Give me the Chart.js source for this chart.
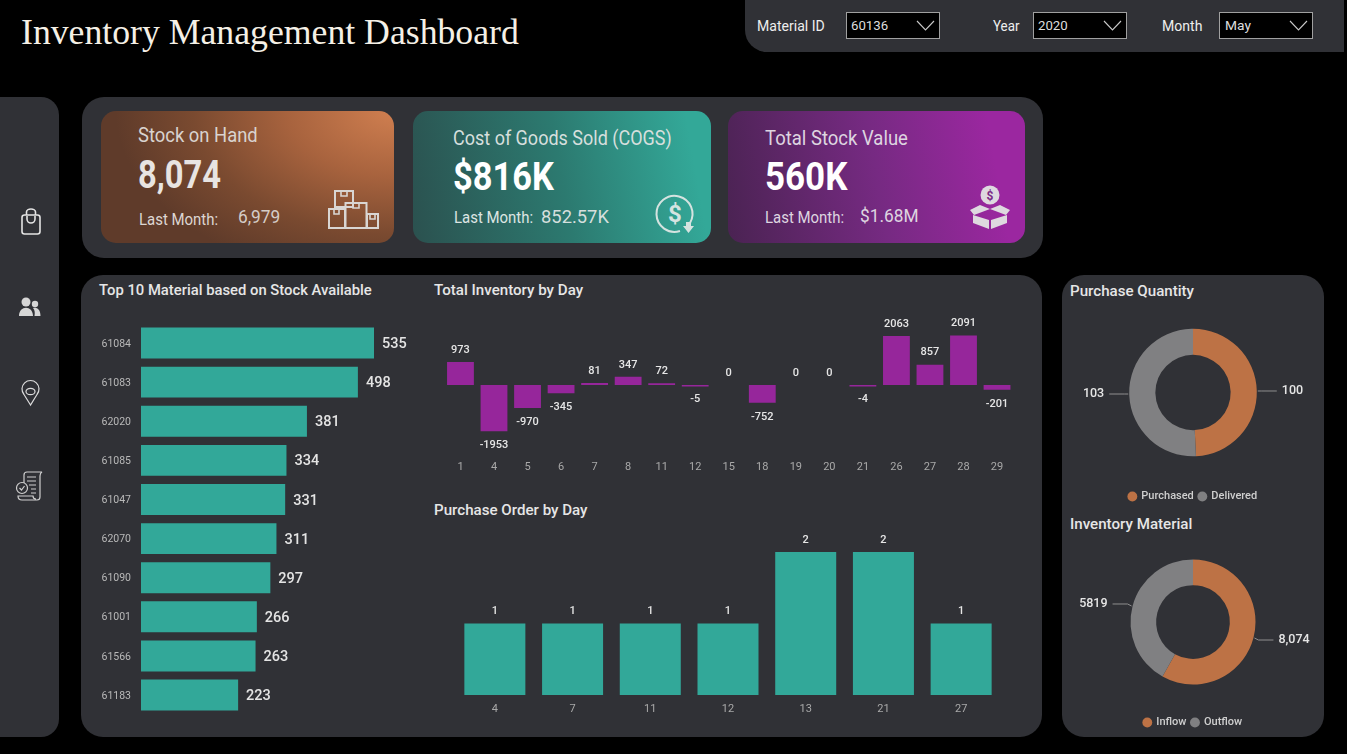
<!DOCTYPE html>
<html><head><meta charset="utf-8">
<script src="https://cdn.jsdelivr.net/npm/chart.js@4"></script>
<style>
html,body{margin:0;padding:0;background:#000;width:1347px;height:754px;overflow:hidden;font-family:Roboto,sans-serif}
.p{position:absolute;background:#303136}
.c{position:absolute;border-radius:15px}
.t{position:absolute;white-space:nowrap;transform-origin:0 50%;line-height:1;transform:translateY(-50%) scaleX(var(--s,.9))}
canvas{position:absolute}
.dd{position:absolute;top:12px;width:92px;height:25px;background:#000;border:1px solid #a0a0a0;box-sizing:content-box}
.h{font-weight:500;font-size:15.5px;color:#e6e6e6;--s:.975}
</style></head><body>
<div class="p" style="left:745px;top:0;width:599px;height:52px;border-bottom-left-radius:22px"></div>
<div class="p" style="left:0;top:97px;width:59px;height:640px;border-radius:0 18px 18px 0"></div>
<div class="p" style="left:82px;top:97px;width:961px;height:161px;border-radius:22px"></div>
<div class="p" style="left:81px;top:275px;width:961px;height:462px;border-radius:22px"></div>
<div class="p" style="left:1062px;top:275px;width:262px;height:462px;border-radius:22px"></div>

<div class="c" style="left:101px;top:111px;width:293px;height:132px;background:radial-gradient(ellipse 95% 130% at 100% 0%,#d07f50 0%,#a8633e 38%,#7a4a30 72%,#5f3b2a 100%)"></div>
<div class="c" style="left:413px;top:111px;width:298px;height:132px;background:linear-gradient(80deg,#2b514f 0%,#2c7a70 50%,#33a898 92%)"></div>
<div class="c" style="left:728px;top:111px;width:297px;height:132px;background:linear-gradient(80deg,#4a2352 0%,#762a82 50%,#9b27a0 88%)"></div>

<div class="t" style="left:21px;top:32px;font:36px 'Liberation Serif',serif;color:#f5f0e6;--s:.992">Inventory Management Dashboard</div>

<div class="t" style="left:757px;top:26.500px;font-size:14.5px;color:#eee;--s:.97">Material ID</div>
<div class="t" style="left:993px;top:26.500px;font-size:14.5px;color:#eee;--s:.92">Year</div>
<div class="t" style="left:1162px;top:26.500px;font-size:14.5px;color:#eee;--s:.97">Month</div>
<div class="dd" style="left:846px"></div><div class="dd" style="left:1033px"></div><div class="dd" style="left:1219px"></div>
<div class="t" style="left:851px;top:26px;font-size:13.5px;color:#ddd;--s:.98">60136</div>
<div class="t" style="left:1038px;top:26px;font-size:13.5px;color:#ddd;--s:.98">2020</div>
<div class="t" style="left:1225px;top:26px;font-size:13.5px;color:#ddd;--s:1.02">May</div>

<div class="t" style="left:138px;top:135px;font-size:20px;color:#d9d3cf;--s:.92">Stock on Hand</div>
<div class="t" style="left:138px;top:175px;font-size:38px;font-weight:700;color:#e8e4e2;--s:.86">8,074</div>
<div class="t" style="left:139px;top:220px;font-size:16px;color:#ddd6d2;--s:.935">Last Month:</div>
<div class="t" style="left:238px;top:217px;font-size:18px;color:#d5cdc8;--s:.96">6,979</div>

<div class="t" style="left:453px;top:138px;font-size:20px;color:#d6dfdd">Cost of Goods Sold (COGS)</div>
<div class="t" style="left:453px;top:177px;font-size:38px;font-weight:700;color:#fff;--s:.905">$816K</div>
<div class="t" style="left:454px;top:218px;font-size:16px;color:#dde5e3;--s:.935">Last Month:</div>
<div class="t" style="left:541px;top:217px;font-size:18px;color:#d5dfdd;--s:1.02">852.57K</div>

<div class="t" style="left:765px;top:138px;font-size:20px;color:#ded5e0;--s:.925">Total Stock Value</div>
<div class="t" style="left:765px;top:177px;font-size:38px;font-weight:700;color:#fff;--s:.92">560K</div>
<div class="t" style="left:765px;top:218px;font-size:16px;color:#ded5e0;--s:.935">Last Month:</div>
<div class="t" style="left:860px;top:216px;font-size:18px;color:#ded5e0;--s:.96">$1.68M</div>

<div class="t h" style="left:99px;top:291px;--s:.955">Top 10 Material based on Stock Available</div>
<div class="t h" style="left:434px;top:291px">Total Inventory by Day</div>
<div class="t h" style="left:434px;top:511px">Purchase Order by Day</div>
<div class="t h" style="left:1070px;top:292px">Purchase Quantity</div>
<div class="t h" style="left:1070px;top:525px">Inventory Material</div>

<svg width="1347" height="754" style="position:absolute;left:0;top:0;pointer-events:none">
 <g fill="none" stroke="#c9c9c9" stroke-width="1.1">
  <polyline points="917,21 925.500,30 934,21"/><polyline points="1104,21 1112.500,30 1121,21"/><polyline points="1290,21 1298.500,30 1307,21"/>
 </g>
 <g fill="none" stroke="#d9d6d3" stroke-width="2">
  <rect x="335" y="191" width="18" height="16"/><rect x="345.500" y="203" width="21" height="25"/>
  <rect x="329" y="209" width="16" height="19"/><rect x="367" y="214" width="11" height="14"/>
  <path d="M341 191v5h6v-5M353 203v5h6v-5M334 209v5h5v-5M370 214v5h5v-5" stroke-width="1.6"/>
 </g>
 <g fill="none" stroke="#d5e3e0" stroke-width="2">
  <path d="M690 223A18 18 0 1 0 680 231"/>
 </g>
 <text x="675" y="222" text-anchor="middle" font-family="Roboto" font-weight="700" font-size="24" fill="#d5e3e0">$</text>
 <path d="M686 222h5v4h3l-5.500 7-5.500-7h3z" fill="#d5e3e0"/>
 <g fill="#ded9df">
  <circle cx="990" cy="195" r="9.500"/>
  <path d="M990 209l-10-4-10 5 4 5 16-6zM990 209l10-4 10 5-4 5z"/>
  <path d="M973 215l16 5v9l-16-6zM1007 215l-16 5v9l16-6z"/>
 </g>
 <text x="990" y="199.500" text-anchor="middle" font-family="Roboto" font-weight="700" font-size="12" fill="#7a2a85">$</text>

 <g fill="none" stroke="#e4e4e4" stroke-width="1.600">
  <rect x="22" y="215" width="18" height="19" rx="2.500"/>
  <path d="M26.500 215v-3a4.500 3 0 0 1 9 0v3M27 216v3a4 4 0 0 0 8 0v-3"/>
 </g>
 <g fill="#d6d6d6">
  <circle cx="26" cy="302" r="4.500"/><circle cx="35" cy="304" r="3.200"/>
  <path d="M19 316c0-11 14-11 14 0zM34.500 316h6c0-7-4-9-7.500-8 2 2 2 5 1.500 8z"/>
 </g>
 <g fill="none" stroke="#dcdcdc" stroke-width="1.200">
  <path d="M30.500 405l-6.500-10.500a8.500 8.500 0 1 1 13 0z"/><ellipse cx="30.500" cy="391.500" rx="4.500" ry="3.200"/>
 </g>
 <g fill="none" stroke="#cfcfcf" stroke-width="1.200">
  <path d="M24 483v-8q0-3 3-3h15q-2 1-2 4v21q0 3-3 3H22q-4 0-4-4h15q0 3 3 3"/>
  <path d="M27 477h9M27 481h9M29 485h7M31 489h5M31 493h5"/>
  <circle cx="22" cy="488" r="5.500"/><path d="M19.500 488l2 2 3-4"/>
 </g>
</svg>

<canvas id="top10" width="330" height="400" style="left:90px;top:318px"></canvas>
<canvas id="inv" width="580" height="163" style="left:440px;top:315px"></canvas>
<canvas id="po" width="560" height="200" style="left:450px;top:520px"></canvas>
<canvas id="d1" width="262" height="213" style="left:1062px;top:298.500px"></canvas>
<canvas id="d2" width="262" height="206" style="left:1062px;top:532px"></canvas>

<script>
// ---- data ----
const materialIds = ["61084","61083","62020","61085","61047","62070","61090","61001","61566","61183"];
const materialStock = [535,498,381,334,331,311,297,266,263,223];
const inventoryDays = ["1","4","5","6","7","8","11","12","15","18","19","20","21","26","27","28","29"];
const inventoryValues = [973,-1953,-970,-345,81,347,72,-5,0,-752,0,0,-4,2063,857,2091,-201];
const purchaseDays = ["4","7","11","12","13","21","27"];
const purchaseOrders = [1,1,1,1,2,2,1];
const purchaseCats = ["Purchased","Delivered"];
const purchaseQty = [100,103];
const purchaseLabels = ["100","103"];
const materialCats = ["Inflow","Outflow"];
const materialQty = [8074,5819];
const materialLabels = ["8,074","5819"];

const TEAL="#32a899", PURPLE="#96269b", ORANGE="#bd7245", GREY="#808082";
Chart.defaults.font.family="Roboto, sans-serif";
Chart.defaults.animation=false;
Chart.defaults.responsive=false;
Chart.defaults.plugins.tooltip.enabled=false;
Chart.defaults.plugins.legend.display=false;

const barLabels={id:"barLabels",afterDatasetsDraw(ch,a,o){
  if(!o.font)return;
  const ctx=ch.ctx,meta=ch.getDatasetMeta(0),vals=ch.data.datasets[0].data,sc=ch.scales.y;
  ctx.save();ctx.fillStyle=o.color;ctx.font=o.font;ctx.textBaseline="middle";
  meta.data.forEach((el,i)=>{
    const v=vals[i];
    if(o.horizontal){ctx.textAlign="left";ctx.fillText(String(v),el.x+o.gap,el.y+1.5);}
    else{ctx.textAlign="center";
      const y=v<0?sc.getPixelForValue(v)+o.gap:sc.getPixelForValue(v)-o.gap;
      ctx.fillText(String(v),el.x,y+1);}
  });
  ctx.restore();
}};
const leaders={id:"leaders",afterDatasetsDraw(ch,a,o){
  if(!o.labels)return;
  const ctx=ch.ctx;
  ctx.save();ctx.font="500 12.5px Roboto";ctx.textBaseline="middle";
  ch.getDatasetMeta(0).data.forEach((el,i)=>{
    const m=(el.startAngle+el.endAngle)/2, R=el.outerRadius;
    const right=Math.cos(m)>0, s=right?1:-1;
    const x0=el.x+Math.cos(m)*(R+1), y0=el.y+Math.sin(m)*(R+1);
    const y1=y0+(o.dy?o.dy[i]:0);
    const x1=x0+s*(o.len||19);
    ctx.strokeStyle="#8f8f8f";ctx.lineWidth=1;
    ctx.beginPath();ctx.moveTo(x0,y0);ctx.lineTo(x0+s*4,y1);ctx.lineTo(x1,y1);ctx.stroke();
    ctx.fillStyle="#e6e6e6";ctx.textAlign=right?"left":"right";
    ctx.fillText(o.labels[i],x1+s*5,y1);
  });
  ctx.restore();
}};
Chart.register(barLabels,leaders);

new Chart(top10,{type:"bar",
 data:{labels:materialIds,datasets:[{data:materialStock,backgroundColor:TEAL,barPercentage:.79,categoryPercentage:1}]},
 options:{indexAxis:"y",layout:{padding:{top:5.45,bottom:3.4}},
  plugins:{barLabels:{font:"500 14.5px Roboto",color:"#e4e4e4",gap:8,horizontal:true}},
  scales:{x:{display:false,min:0,max:640.6},
   y:{afterFit(s){s.width=51;s.paddingTop=0;s.paddingBottom=0},grid:{display:false,drawTicks:false},border:{display:false},
      ticks:{color:"#b9b9b9",font:{size:10.5},padding:10,autoSkip:false,labelOffset:1}}}}});

new Chart(inv,{type:"bar",
 data:{labels:inventoryDays,datasets:[{data:inventoryValues,backgroundColor:c=>c.raw===0?"transparent":PURPLE,minBarLength:1.5,barPercentage:.8,categoryPercentage:1}]},
 options:{layout:{padding:{left:3.7,right:6.2,top:5}},
  plugins:{barLabels:{font:"500 11px Roboto",color:"#e6e6e6",gap:13}},
  scales:{y:{display:false,min:-2954,max:2743},
   x:{afterFit(s){s.height=23},grid:{display:false,drawTicks:false},border:{display:false},
      ticks:{color:"#a9a9a9",font:{size:11},padding:6,autoSkip:false,maxRotation:0}}}}});

new Chart(po,{type:"bar",
 data:{labels:purchaseDays,datasets:[{data:purchaseOrders,backgroundColor:TEAL,barPercentage:.785,categoryPercentage:1}]},
 options:{layout:{padding:{left:6,right:10,top:5}},
  plugins:{barLabels:{font:"500 11px Roboto",color:"#e6e6e6",gap:13}},
  scales:{y:{display:false,min:0,max:2.378},
   x:{afterFit(s){s.height=25},grid:{display:false,drawTicks:false},border:{display:false},
      ticks:{color:"#a9a9a9",font:{size:11},padding:8,autoSkip:false,maxRotation:0}}}}});

function donut(cv,cats,vals,labels,radius,dy){
 new Chart(cv,{type:"doughnut",
  data:{labels:cats,datasets:[{data:vals,backgroundColor:[ORANGE,GREY],borderWidth:0,radius:radius,cutout:"59%"}]},
  options:{plugins:{leaders:{labels:labels,dy:dy},
    legend:{display:true,position:"bottom",labels:{usePointStyle:true,pointStyle:"circle",boxWidth:7,boxHeight:7,color:"#cfcfcf",padding:5,font:{size:11,weight:"500"}}}}}});
}
donut(d1,purchaseCats,purchaseQty,purchaseLabels,63.8,null);
donut(d2,materialCats,materialQty,materialLabels,62.5,[2,-2]);
</script>
</body></html>
